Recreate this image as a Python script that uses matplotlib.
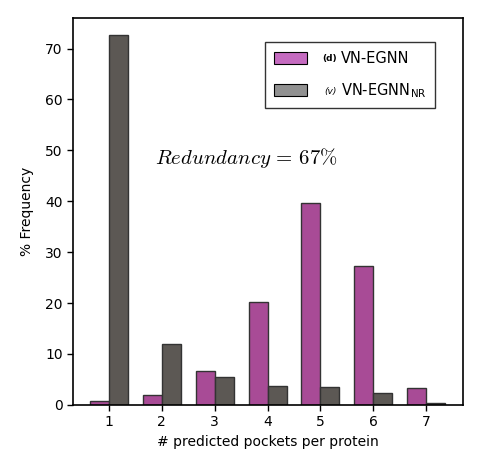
import numpy as np
import matplotlib
matplotlib.use('Agg')
import matplotlib.pyplot as plt
from matplotlib.patches import Patch

plt.rcParams['mathtext.fontset'] = 'cm'
plt.rcParams['font.family'] = 'DejaVu Sans'

pockets = [1, 2, 3, 4, 5, 6, 7]
vn_egnn = [0.8, 2.0, 6.7, 20.2, 39.6, 27.2, 3.3]
vn_egnn_nr = [72.6, 12.0, 5.4, 3.7, 3.5, 2.4, 0.4]
labels = ['VN-EGNN', r'VN-EGNN$_{\mathregular{NR}}$']
prefixes = ['(d)', '(v)']
redundancy = 67

fig = plt.figure(figsize=(4.81, 4.67), dpi=100)
ax = fig.add_axes([0.152, 0.133, 0.8106, 0.8285])

x = np.array(pockets)
w = 0.36
ax.bar(x - w / 2, vn_egnn, w, color='#a84b96', edgecolor='#333333', linewidth=1)
ax.bar(x + w / 2, vn_egnn_nr, w, color='#5c5854', edgecolor='#333333', linewidth=1)

ax.set_xlim(0.32, 7.7)
ax.set_ylim(0, 76)
ax.set_xticks(pockets)
ax.set_yticks(np.arange(0, 71, 10))
ax.tick_params(labelsize=10, length=4, width=1)
ax.set_xlabel('# predicted pockets per protein', fontsize=10)
ax.set_ylabel('% Frequency', fontsize=10, labelpad=8)
for s in ax.spines.values():
    s.set_linewidth(1.2)

handles = [Patch(facecolor='#c56bc0', edgecolor='black', linewidth=0.8),
           Patch(facecolor='#919191', edgecolor='black', linewidth=0.8)]
leg = ax.legend(handles, labels, loc='upper right', bbox_to_anchor=(0.928, 0.938),
                fontsize=10.5, frameon=True, fancybox=False, edgecolor='black',
                handlelength=2.3, handleheight=0.9, handletextpad=2.3,
                borderpad=0.6, labelspacing=1.05, borderaxespad=0)
leg.get_frame().set_linewidth(1.0)

ax.text(0.444, 0.638, r'$Redundancy\,=\,%d\%%$' % redundancy, transform=ax.transAxes,
        ha='center', va='center', fontsize=15)

fig.canvas.draw()
r = fig.canvas.get_renderer()
for t, p in zip(leg.get_texts(), prefixes):
    bb = t.get_window_extent(r)
    fx = (bb.x0 - 4) / fig.bbox.width
    fy = (bb.y0 + bb.height * 0.45) / fig.bbox.height
    style = 'normal' if p == '(d)' else 'italic'
    weight = 'bold' if p == '(d)' else 'normal'
    fig.text(fx, fy, p, ha='right', va='center', fontsize=6.5,
             fontstyle=style, fontweight=weight)

fig.savefig('out.png', dpi=100)
